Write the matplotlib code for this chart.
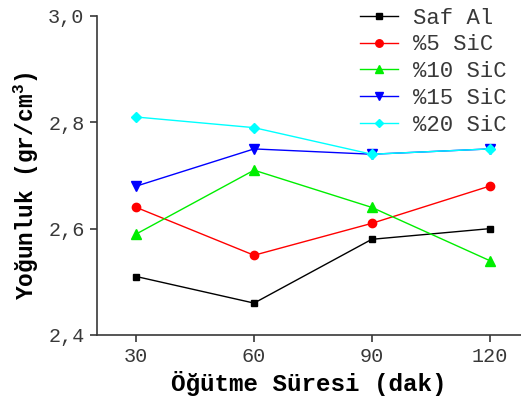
import numpy as np
import matplotlib
matplotlib.use("Agg")
import matplotlib.pyplot as plt

#--- DATA ---#

sure = [30, 60, 90, 120]
saf_al = [2.51, 2.46, 2.58, 2.60]
sic5 = [2.64, 2.55, 2.61, 2.68]
sic10 = [2.59, 2.71, 2.64, 2.54]
sic15 = [2.68, 2.75, 2.74, 2.75]
sic20 = [2.81, 2.79, 2.74, 2.75]

labels = ["Saf Al", "%5 SiC", "%10 SiC", "%15 SiC", "%20 SiC"]
yticks = [2.4, 2.6, 2.8, 3.0]
ytick_labels = ["2,4", "2,6", "2,8", "3,0"]

#--- STYLE ---#

cols = ["black", "red", "#00ee00", "blue", "cyan"]
marks = ["s", "o", "^", "v", "D"]
msizes = [5, 6, 7, 7, 5]
font = "Liberation Mono"
gray = "#383838"

plt.rcParams["mathtext.fontset"] = "custom"
plt.rcParams["mathtext.rm"] = "Liberation Mono:bold"
plt.rcParams["mathtext.bf"] = "Liberation Mono:bold"

fig = plt.figure(figsize=(5.21, 4.00), dpi=100)
ax = fig.add_axes([97/521, 65/400, 1 - 97/521, 319/400])

series = [saf_al, sic5, sic10, sic15, sic20]
for y, c, m, ms, lab in zip(series, cols, marks, msizes, labels):
    ax.plot(sure, y, color=c, marker=m, markersize=ms, linewidth=1.0, label=lab)

ax.set_xlim(20, 128)
ax.set_ylim(2.4, 3.0)
ax.set_xticks(sure)
ax.set_xticklabels([str(s) for s in sure], fontfamily=font, fontsize=14.5, color=gray)
ax.set_yticks(yticks)
ax.set_yticklabels(ytick_labels, fontfamily=font, fontsize=14.5, color=gray)

for side in ["top", "right"]:
    ax.spines[side].set_visible(False)
for side in ["left", "bottom"]:
    ax.spines[side].set_color(gray)
    ax.spines[side].set_linewidth(1.2)
ax.tick_params(direction="out", length=5, width=1.2, color=gray, pad=4)

ax.set_xlabel("Öğütme Süresi (dak)", fontfamily=font, fontweight="bold", fontsize=17.5, labelpad=3)
ax.set_ylabel("Yoğunluk (gr/cm$^{3}$)", fontfamily=font, fontweight="bold", fontsize=16.5)
ax.yaxis.set_label_coords(-0.133, 0.467)

leg = ax.legend(loc="upper right", bbox_to_anchor=(0.988, 1.054), frameon=False,
                prop={"family": font, "size": 16}, handlelength=1.7, markerscale=0.9,
                labelspacing=0.26, handletextpad=0.7, borderaxespad=0.0)
for t in leg.get_texts():
    t.set_color(gray)

plt.savefig("out.png", dpi=100)
plt.close(fig)
